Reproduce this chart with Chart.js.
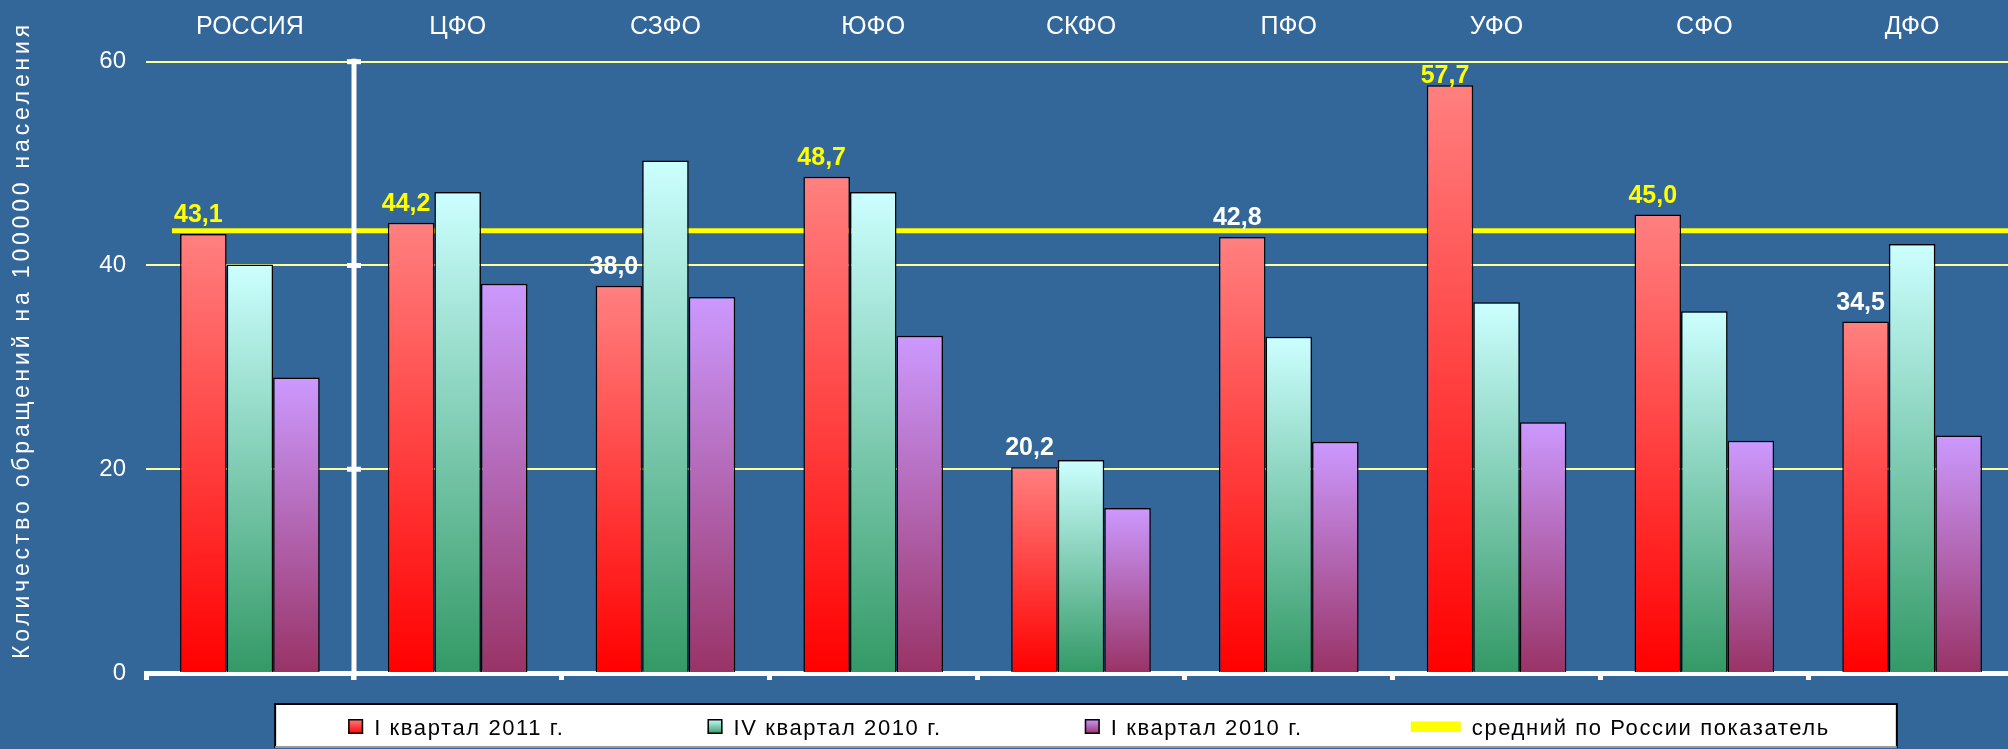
<!DOCTYPE html>
<html>
<head>
<meta charset="utf-8">
<script src="https://cdn.jsdelivr.net/npm/chart.js@4/dist/chart.umd.min.js"></script>
<style>
  html, body { margin: 0; padding: 0; background: #336699; overflow: hidden; }
  canvas { display: block; }
</style>
</head>
<body>
<canvas id="c" width="2040" height="749"></canvas>
<script>
// ---------- data ----------
const categories = ['РОССИЯ', 'ЦФО', 'СЗФО', 'ЮФО', 'СКФО', 'ПФО', 'УФО', 'СФО', 'ДФО'];
const seriesLabels = ['I квартал 2011 г.', 'IV квартал 2010 г.', 'I квартал 2010 г.'];
const q1_2011 = [43.1, 44.2, 38.0, 48.7, 20.2, 42.8, 57.7, 45.0, 34.5];
const q4_2010 = [40.1, 47.2, 50.3, 47.2, 20.9, 33.0, 36.4, 35.5, 42.1];
const q1_2010 = [29.0, 38.2, 36.9, 33.1, 16.2, 22.7, 24.6, 22.8, 23.3];
const averageLabel = 'средний по России показатель';
const russiaAverage = 43.4;
const yTicks = [0, 20, 40, 60];
const yTitle = 'Количество обращений на 100000 населения';

// ---------- styles ----------
const FONT = '"Liberation Sans", Arial, sans-serif';
const gradColors = [['#FF8080', '#FF0000'], ['#CCFFFF', '#339966'], ['#CC99FF', '#993366']];
const avgSpan = [-0.375, 8.5]; // extent of the average line, in category-index units

function barGradient(top, bottom) {
  return (ctx) => {
    const chart = ctx.chart;
    const scales = chart.scales;
    if (!chart.chartArea || !scales.y || ctx.type !== 'data') return bottom;
    const v = ctx.parsed ? ctx.parsed.y : ctx.raw;
    const y0 = scales.y.getPixelForValue(v);
    const y1 = scales.y.getPixelForValue(0);
    const g = chart.ctx.createLinearGradient(0, y0, 0, y1);
    g.addColorStop(0, top);
    g.addColorStop(1, bottom);
    return g;
  };
}

// vertical axis line between the first and second category
const axisLinePlugin = {
  id: 'axisLine',
  afterDatasetsDraw(chart) {
    const {ctx, scales: {x, y}, chartArea} = chart;
    const px = Math.round(x.getPixelForValue(0.5));
    const yTop = y.getPixelForValue(yTicks[yTicks.length - 1]);
    ctx.save();
    ctx.fillStyle = '#FFFFFF';
    ctx.fillRect(px - 2.5, yTop - 3, 5, chartArea.bottom + 7 - (yTop - 3));
    yTicks.slice(1).forEach(t => {
      const py = y.getPixelForValue(t);
      ctx.fillRect(px - 7, py - 2.5, 14, 5);
    });
    ctx.restore();
  }
};

// value labels above the first series
const valueLabelPlugin = {
  id: 'valueLabels',
  afterDatasetsDraw(chart) {
    const {ctx, chartArea} = chart;
    const meta = chart.getDatasetMeta(0);
    ctx.save();
    ctx.font = 'bold 25px ' + FONT;
    ctx.textAlign = 'center';
    ctx.textBaseline = 'alphabetic';
    meta.data.forEach((bar, i) => {
      const v = q1_2011[i];
      const txt = v.toFixed(1).replace('.', ',');
      ctx.fillStyle = v >= q1_2011[0] ? '#FFFF00' : '#FFFFFF';
      let base = bar.y - 12;
      const minBase = chartArea.top + 3.5 + 18;
      if (base < minBase) base = minBase;
      ctx.fillText(txt, bar.x - 5, base);
    });
    ctx.restore();
  }
};

// y-axis title
const yTitlePlugin = {
  id: 'yTitle',
  afterDraw(chart) {
    const {ctx} = chart;
    ctx.save();
    ctx.font = '23px ' + FONT;
    ctx.fillStyle = '#FFFFFF';
    try { ctx.letterSpacing = '3.8px'; } catch (e) {}
    ctx.textAlign = 'center';
    ctx.textBaseline = 'alphabetic';
    ctx.translate(29, 340);
    ctx.rotate(-Math.PI / 2);
    ctx.fillText(yTitle, 0, 0);
    ctx.restore();
  }
};

// boxed legend row
const legendPlugin = {
  id: 'boxLegend',
  afterDraw(chart) {
    const {ctx, chartArea} = chart;
    const items = seriesLabels.map((t, i) => ({text: t, kind: 'box', colors: gradColors[i]}));
    items.push({text: averageLabel, kind: 'line', color: '#FFFF00'});
    ctx.save();
    ctx.font = '22px ' + FONT;
    try { ctx.letterSpacing = '1.6px'; } catch (e) {}
    const slot = 15, gapText = 11, gapItem = 143;
    const widths = items.map(it => ctx.measureText(it.text).width);
    const total = widths.reduce((a, w) => a + slot + gapText + w, 0) + gapItem * (items.length - 1);
    const center = (chartArea.left + chartArea.right) / 2 + 8;
    const start = center - total / 2;
    const boxTop = chartArea.bottom + 31;
    const boxLeft = start - 73, boxRight = start + total + 67, boxBottom = 748;
    ctx.fillStyle = '#FFFFFF';
    ctx.fillRect(boxLeft, boxTop, boxRight - boxLeft, boxBottom - boxTop);
    ctx.strokeStyle = '#000000';
    ctx.lineWidth = 2;
    ctx.beginPath();
    ctx.moveTo(boxLeft, boxBottom); ctx.lineTo(boxLeft, boxTop); ctx.lineTo(boxRight, boxTop); ctx.lineTo(boxRight, boxBottom);
    ctx.stroke();
    ctx.strokeStyle = '#999999';
    ctx.beginPath(); ctx.moveTo(boxLeft, boxBottom - 1); ctx.lineTo(boxRight, boxBottom - 1); ctx.stroke();

    const midY = boxTop + 22.5;
    let x = start;
    items.forEach((it, i) => {
      if (it.kind === 'box') {
        const g = ctx.createLinearGradient(0, midY - 7.5, 0, midY + 7.5);
        g.addColorStop(0, it.colors[0]); g.addColorStop(1, it.colors[1]);
        ctx.fillStyle = g;
        ctx.fillRect(x, midY - 7.5, slot, 15);
        ctx.lineWidth = 1.5;
        ctx.strokeStyle = '#000000';
        ctx.strokeRect(x + 0.75, midY - 6.75, slot - 1.5, 13.5);
      } else {
        ctx.fillStyle = it.color;
        ctx.fillRect(x + slot - 50, midY - 5, 50, 10.5);
      }
      ctx.fillStyle = '#000000';
      ctx.textAlign = 'left';
      ctx.textBaseline = 'alphabetic';
      ctx.fillText(it.text, x + slot + gapText, midY + 8.5);
      x += slot + gapText + widths[i] + gapItem;
    });
    ctx.restore();
  }
};

const datasets = [q1_2011, q4_2010, q1_2010].map((d, i) => ({
  type: 'bar',
  label: seriesLabels[i],
  data: d,
  backgroundColor: barGradient(gradColors[i][0], gradColors[i][1]),
  borderColor: '#000000',
  borderWidth: 1.5,
  categoryPercentage: 0.672,
  barPercentage: 1.0,
  order: 0
}));
datasets.push({
  type: 'line',
  label: averageLabel,
  parsing: false,
  data: avgSpan.map(x => ({x: x, y: russiaAverage})),
  borderColor: '#FFFF00',
  borderWidth: 5,
  pointRadius: 0,
  fill: false,
  order: 1
});

new Chart(document.getElementById('c'), {
  type: 'bar',
  data: { labels: categories, datasets: datasets },
  options: {
    responsive: false,
    animation: false,
    devicePixelRatio: 1,
    layout: { padding: { left: 0, right: 24, top: 0, bottom: 0 } },
    plugins: { legend: { display: false }, tooltip: { enabled: false }, title: { display: false } },
    scales: {
      x: {
        type: 'category',
        position: 'bottom',
        offset: true,
        grid: { offset: true, drawOnChartArea: false, drawTicks: true, tickLength: 7, tickWidth: 5, tickColor: '#FFFFFF' },
        border: { display: true, color: '#FFFFFF', width: 5 },
        ticks: { display: false },
        afterFit(s) { s.height = 76; }
      },
      x2: {
        type: 'category',
        position: 'top',
        offset: true,
        grid: { display: false, offset: true },
        border: { display: false },
        ticks: { color: '#FFFFFF', font: { size: 25, family: FONT }, padding: 12, maxRotation: 0, autoSkip: false },
        afterFit(s) { s.height = 61.7; }
      },
      y: {
        min: yTicks[0],
        max: yTicks[yTicks.length - 1],
        ticks: { stepSize: yTicks[1] - yTicks[0], color: '#FFFFFF', font: { size: 24, family: FONT }, padding: 20 },
        grid: { color: (c) => (c.tick && c.tick.value === 0) ? 'rgba(0,0,0,0)' : '#FFFF99', lineWidth: 2, drawTicks: false },
        border: { display: false },
        afterFit(s) { s.width = 146; }
      }
    }
  },
  plugins: [axisLinePlugin, valueLabelPlugin, yTitlePlugin, legendPlugin]
});
</script>
</body>
</html>
